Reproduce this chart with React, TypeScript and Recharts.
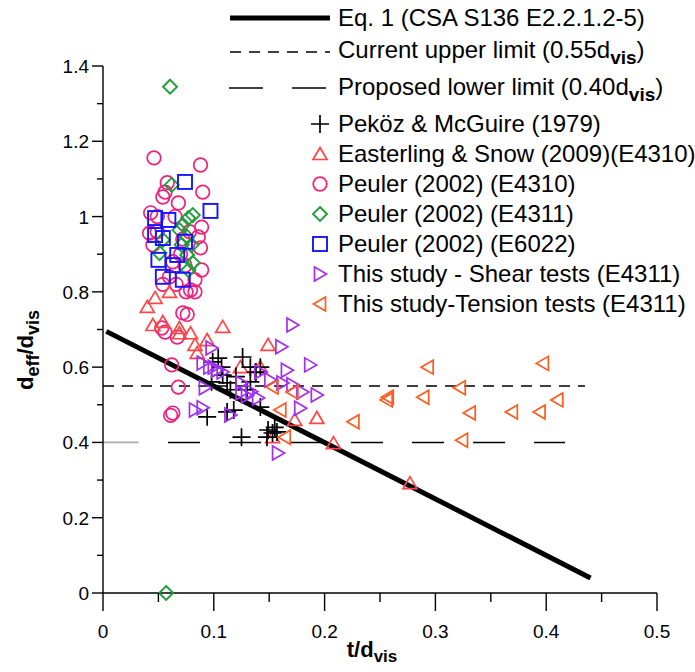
import React from "react";
import { Legend, ReferenceLine, Scatter, ScatterChart, XAxis, YAxis } from "recharts";

// (t/dvis, deff/dvis)
const pekozMcGuire: [number, number][] = [
  [0.099, 0.614], [0.104, 0.624], [0.107, 0.6], [0.108, 0.579], [0.112, 0.558], [0.098, 0.561],
  [0.115, 0.54], [0.126, 0.627], [0.13, 0.54], [0.133, 0.561], [0.133, 0.6], [0.142, 0.6],
  [0.138, 0.587], [0.142, 0.494], [0.112, 0.481], [0.118, 0.486], [0.094, 0.468], [0.125, 0.414],
  [0.148, 0.414], [0.149, 0.433], [0.153, 0.425], [0.157, 0.428], [0.155, 0.44], [0.12, 0.575],
];
const easterlingSnow: [number, number][] = [
  [0.047, 0.784], [0.06, 0.8], [0.04, 0.76], [0.045, 0.712], [0.054, 0.72], [0.069, 0.704],
  [0.079, 0.69], [0.069, 0.69], [0.094, 0.672], [0.083, 0.659], [0.085, 0.638], [0.108, 0.707],
  [0.149, 0.659], [0.124, 0.6], [0.142, 0.6], [0.193, 0.465], [0.208, 0.398], [0.277, 0.292],
  [0.153, 0.414], [0.173, 0.46],
];
const peuler4310: [number, number][] = [
  [0.046, 1.156], [0.088, 1.137], [0.09, 1.065], [0.058, 1.09], [0.056, 1.065], [0.054, 1.052],
  [0.068, 1.036], [0.049, 1.0], [0.043, 1.01], [0.049, 0.96], [0.042, 0.956], [0.045, 0.925],
  [0.089, 0.972], [0.088, 0.917], [0.086, 0.946], [0.089, 0.858], [0.083, 0.832], [0.079, 0.805],
  [0.075, 0.8], [0.083, 0.8], [0.072, 0.744], [0.076, 0.74], [0.074, 0.87], [0.063, 0.88],
  [0.06, 0.84], [0.066, 0.82], [0.054, 0.82], [0.07, 0.9], [0.078, 0.96], [0.053, 0.704],
  [0.056, 0.693], [0.067, 0.68], [0.062, 0.606], [0.068, 0.547], [0.063, 0.478], [0.061, 0.472],
  [0.065, 1.0], [0.072, 0.94],
];
const peuler4311: [number, number][] = [
  [0.0605, 1.345], [0.062, 1.084], [0.081, 1.004], [0.077, 0.996], [0.072, 0.978], [0.069, 0.964],
  [0.076, 0.946], [0.071, 0.925], [0.08, 0.925], [0.054, 0.938], [0.051, 0.903], [0.076, 0.898],
  [0.081, 0.877], [0.077, 0.858], [0.057, 0.0],
];
const peuler6022: [number, number][] = [
  [0.074, 1.092], [0.097, 1.015], [0.047, 0.996], [0.059, 0.991], [0.047, 0.951], [0.054, 0.943],
  [0.074, 0.933], [0.05, 0.885], [0.063, 0.871], [0.054, 0.84], [0.072, 0.832], [0.067, 0.898],
];
const shearTests: [number, number][] = [
  [0.171, 0.712], [0.161, 0.654], [0.187, 0.606], [0.166, 0.592], [0.098, 0.651], [0.09, 0.611],
  [0.096, 0.6], [0.103, 0.592], [0.108, 0.587], [0.092, 0.545], [0.125, 0.558], [0.125, 0.532],
  [0.13, 0.524], [0.134, 0.535], [0.14, 0.518], [0.142, 0.587], [0.151, 0.566], [0.162, 0.558],
  [0.171, 0.553], [0.18, 0.534], [0.193, 0.526], [0.178, 0.491], [0.158, 0.372], [0.083, 0.486],
  [0.09, 0.492], [0.115, 0.473], [0.1, 0.6],
];
const tensionTests: [number, number][] = [
  [0.293, 0.6], [0.397, 0.61], [0.322, 0.545], [0.257, 0.52], [0.256, 0.513], [0.289, 0.52],
  [0.41, 0.513], [0.331, 0.478], [0.369, 0.481], [0.394, 0.481], [0.226, 0.455], [0.324, 0.406],
  [0.16, 0.486], [0.164, 0.414], [0.171, 0.534], [0.153, 0.547],
];

// Eq. 1 and the two limits
const eqLine = [{ t: 0.003, r: 0.695 }, { t: 0.44, r: 0.04 }];
const upperLimit = [{ t: 0, r: 0.55 }, { t: 0.435, r: 0.55 }];
const lowerLimitGrey = [{ t: 0, r: 0.4 }, { t: 0.032, r: 0.4 }];
const lowerLimit = [{ t: 0.0587, r: 0.4 }, { t: 0.417, r: 0.4 }];

const xTicks = [0, 0.05, 0.1, 0.15, 0.2, 0.25, 0.3, 0.35, 0.4, 0.45, 0.5];
const yTicks = [0, 0.1, 0.2, 0.3, 0.4, 0.5, 0.6, 0.7, 0.8, 0.9, 1, 1.1, 1.2, 1.3, 1.4];

const FONT = "'Liberation Sans', Arial, sans-serif";
const C = {
  pekoz: "#000000",
  easterling: "#ff4545",
  p4310: "#f21f7c",
  p4311: "#1f9d3a",
  p6022: "#1414ff",
  shear: "#a12ff2",
  tension: "#ff5a1f",
};

const pts = (a: [number, number][]) => a.map(([t, r]) => ({ t, r }));
const isMajor = (v: number, step: number) => Math.abs(v / step - Math.round(v / step)) < 1e-6;
const fmt = (v: number) => String(Math.round(v * 10) / 10);

// marker shapes
const plus = (x: number, y: number, c: string) => (
  <path d={`M${x - 9},${y}H${x + 9}M${x},${y - 9}V${y + 9}`} stroke={c} strokeWidth={1.7} fill="none" />
);
const triUp = (x: number, y: number, c: string) => (
  <path d={`M${x},${y - 6.5}L${x + 7},${y + 5.5}L${x - 7},${y + 5.5}Z`} stroke={c} strokeWidth={1.7} fill="none" />
);
const triRight = (x: number, y: number, c: string) => (
  <path d={`M${x + 6.5},${y}L${x - 5.5},${y - 7}L${x - 5.5},${y + 7}Z`} stroke={c} strokeWidth={1.7} fill="none" />
);
const triLeft = (x: number, y: number, c: string) => (
  <path d={`M${x - 6.5},${y}L${x + 5.5},${y - 7}L${x + 5.5},${y + 7}Z`} stroke={c} strokeWidth={1.7} fill="none" />
);
const circle = (x: number, y: number, c: string) => (
  <circle cx={x} cy={y} r={6.8} stroke={c} strokeWidth={1.7} fill="none" />
);
const diamond = (x: number, y: number, c: string) => (
  <path d={`M${x},${y - 7}L${x + 7},${y}L${x},${y + 7}L${x - 7},${y}Z`} stroke={c} strokeWidth={1.9} fill="none" />
);
const square = (x: number, y: number, c: string) => (
  <rect x={x - 7} y={y - 7} width={14} height={14} stroke={c} strokeWidth={1.9} fill="none" />
);

const shapeOf = (fn: (x: number, y: number, c: string) => React.ReactElement, c: string) => (p: any) => fn(p.cx, p.cy, c);

const XTick = ({ x, y, payload }: any) => {
  const v = payload.value;
  const major = isMajor(v, 0.1);
  return (
    <g>
      <line x1={x} x2={x} y1={y} y2={y + (major ? 18 : 9)} stroke="#000" strokeWidth={1.4} />
      {major && (
        <text x={x} y={y + 45} textAnchor="middle" fontSize={19} fontFamily={FONT} fill="#000">{fmt(v)}</text>
      )}
    </g>
  );
};

const YTick = ({ x, y, payload }: any) => {
  const v = payload.value;
  const major = isMajor(v, 0.2);
  return (
    <g>
      <line x1={x} x2={x - (major ? 11 : 6)} y1={y} y2={y} stroke="#000" strokeWidth={1.4} />
      {major && (
        <text x={x - 14} y={y + 7} textAnchor="end" fontSize={19} fontFamily={FONT} fill="#000">{fmt(v)}</text>
      )}
    </g>
  );
};

const XTitle = () => (
  <text x={372} y={657} textAnchor="middle" fontSize={22} fontWeight="bold" fontFamily={FONT} fill="#000">
    t/d<tspan dy={5} fontSize={17}>vis</tspan>
  </text>
);

const YTitle = () => (
  <text transform="translate(33,350) rotate(-90)" textAnchor="middle" fontSize={22} fontWeight="bold" fontFamily={FONT} fill="#000">
    d<tspan dy={6} fontSize={18}>eff</tspan><tspan dy={-6}>/d</tspan><tspan dy={6} fontSize={18}>vis</tspan>
  </text>
);

const markerRows = [
  { label: "Peköz & McGuire (1979)", fn: plus, c: C.pekoz },
  { label: "Easterling & Snow (2009)(E4310)", fn: triUp, c: C.easterling },
  { label: "Peuler (2002) (E4310)", fn: circle, c: C.p4310 },
  { label: "Peuler (2002) (E4311)", fn: diamond, c: C.p4311 },
  { label: "Peuler (2002) (E6022)", fn: square, c: C.p6022 },
  { label: "This study - Shear tests (E4311)", fn: triRight, c: C.shear },
  { label: "This study-Tension tests (E4311)", fn: triLeft, c: C.tension },
];

const LegendBox = () => (
  <svg width={695} height={320} style={{ display: "block" }}>
    <g fontFamily={FONT} fontSize={24} fill="#000">
      <line x1={230} x2={330} y1={18} y2={18} stroke="#000" strokeWidth={5} />
      <text x={338} y={26}>Eq. 1 (CSA S136 E2.2.1.2-5)</text>
      <line x1={230} x2={330} y1={52} y2={52} stroke="#000" strokeWidth={1.4} strokeDasharray="11 8" />
      <text x={338} y={58}>
        Current upper limit (0.55d<tspan dy={6} fontSize={19} fontWeight="bold">vis</tspan><tspan dy={-6}>)</tspan>
      </text>
      <line x1={229} x2={326} y1={88} y2={88} stroke="#000" strokeWidth={1.4} strokeDasharray="34 29" />
      <text x={338} y={95}>
        Proposed lower limit (0.40d<tspan dy={6} fontSize={19} fontWeight="bold">vis</tspan><tspan dy={-6}>)</tspan>
      </text>
      {markerRows.map((row, i) => {
        const cy = 124 + i * 30;
        return (
          <g key={row.label}>
            {row.fn(320, cy, row.c)}
            <text x={338} y={cy + 8}>{row.label}</text>
          </g>
        );
      })}
    </g>
  </svg>
);

export default function App() {
  return (
    <div style={{ position: "absolute", left: 0, top: 0, background: "#fff" }}>
      <ScatterChart width={695} height={672} margin={{ top: 66, right: 38, bottom: 19, left: 33 }}>
        <XAxis
          type="number"
          dataKey="t"
          domain={[0, 0.5]}
          ticks={xTicks}
          interval={0}
          height={60}
          tickSize={0}
          tickMargin={0}
          tickLine={false}
          axisLine={{ stroke: "#000", strokeWidth: 1.4 }}
          tick={<XTick />}
          label={<XTitle />}
        />
        <YAxis
          type="number"
          dataKey="r"
          domain={[0, 1.4]}
          ticks={yTicks}
          interval={0}
          width={70}
          tickSize={0}
          tickMargin={0}
          tickLine={false}
          axisLine={{ stroke: "#000", strokeWidth: 1.4 }}
          tick={<YTick />}
          label={<YTitle />}
        />
        <ReferenceLine segment={[{ x: upperLimit[0].t, y: upperLimit[0].r }, { x: upperLimit[1].t, y: upperLimit[1].r }]} stroke="#000" strokeWidth={1.4} strokeDasharray="11 8" />
        <ReferenceLine segment={[{ x: lowerLimitGrey[0].t, y: lowerLimitGrey[0].r }, { x: lowerLimitGrey[1].t, y: lowerLimitGrey[1].r }]} stroke="#aaaaaa" strokeWidth={1.8} />
        <ReferenceLine segment={[{ x: lowerLimit[0].t, y: lowerLimit[0].r }, { x: lowerLimit[1].t, y: lowerLimit[1].r }]} stroke="#000" strokeWidth={1.4} strokeDasharray="32 29" />
        <Scatter data={pts(peuler4310)} shape={shapeOf(circle, C.p4310)} isAnimationActive={false} />
        <Scatter data={pts(peuler4311)} shape={shapeOf(diamond, C.p4311)} isAnimationActive={false} />
        <Scatter data={pts(peuler6022)} shape={shapeOf(square, C.p6022)} isAnimationActive={false} />
        <Scatter data={pts(easterlingSnow)} shape={shapeOf(triUp, C.easterling)} isAnimationActive={false} />
        <Scatter data={pts(pekozMcGuire)} shape={shapeOf(plus, C.pekoz)} isAnimationActive={false} />
        <Scatter data={pts(shearTests)} shape={shapeOf(triRight, C.shear)} isAnimationActive={false} />
        <Scatter data={pts(tensionTests)} shape={shapeOf(triLeft, C.tension)} isAnimationActive={false} />
        <ReferenceLine segment={[{ x: eqLine[0].t, y: eqLine[0].r }, { x: eqLine[1].t, y: eqLine[1].r }]} stroke="#000" strokeWidth={5} />
        <Legend
          layout="vertical"
          align="center"
          verticalAlign="middle"
          content={<LegendBox />}
          wrapperStyle={{ left: 0, top: 0, width: 695, height: 320, pointerEvents: "none" }}
        />
      </ScatterChart>
    </div>
  );
}
